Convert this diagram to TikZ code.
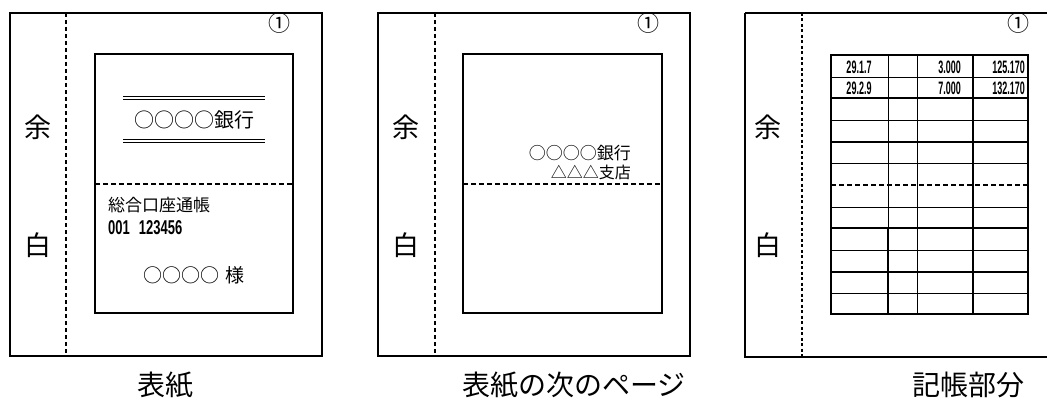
\documentclass[tikz,border=0pt]{standalone}
\usepackage{fontspec}
\setmainfont{Noto Sans CJK JP}
\newfontfamily\numfont{Liberation Sans}
\begin{document}
\begin{tikzpicture}[x=1pt,y=-1pt,
  pageframe/.style={draw, line width=1.4pt},
  innerframe/.style={draw, line width=1.4pt},
  marginline/.style={line width=1.3pt, dash pattern=on 4pt off 3pt},
  foldline/.style={line width=1.3pt, dash pattern=on 5pt off 3pt},
  margintext/.style={font=\fontsize{27}{27}\selectfont, inner sep=0pt},
  caption/.style={font=\fontsize{28}{28}\selectfont, inner sep=0pt},
  circnum/.style={font=\fontsize{22}{22}\selectfont, inner sep=0pt},
  tnum/.style={font=\numfont\bfseries\fontsize{18}{18}\selectfont, xscale=0.5, inner sep=0pt},
  gridthin/.style={line width=0.9pt},
  gridthick/.style={line width=1.7pt}]
\useasboundingbox (0,0) rectangle (1047,404);

% ---------- panel 1 : 表紙 ----------
\draw[pageframe] (10,13) rectangle (322,356);
\draw[marginline] (66,13) -- (66,356);
\node[margintext] (p1yo) at (38,127) {余};
\node[margintext] (p1haku) at (38,245) {白};
\node[circnum] (p1num) at (279,23) {①};
\draw[innerframe] (95,54) rectangle (293,313);
\draw[foldline] (95,184) -- (293,184);
\draw[line width=0.9pt, double, double distance=1.4pt] (123,98) -- (265,98);
\draw[line width=0.9pt, double, double distance=1.4pt] (123,141) -- (265,141);
\node[font=\fontsize{20}{20}\selectfont, inner sep=0pt] (p1bank) at (194,120) {○○○○銀行};
\node[font=\fontsize{17}{17}\selectfont, inner sep=0pt, anchor=west] (p1title) at (108,205) {総合口座通帳};
\node[font=\numfont\bfseries\fontsize{20}{20}\selectfont, xscale=0.65, inner sep=0pt, anchor=west] (p1acct) at (108,228) {001\hspace{0.7em}123456};
\node[font=\fontsize{19}{19}\selectfont, inner sep=0pt] (p1name) at (194,275) {○○○○\hspace{0.3em}様};
\node[caption] (cap1) at (165,385) {表紙};

% ---------- panel 2 : 表紙の次のページ ----------
\draw[pageframe] (378,13) rectangle (690,356);
\draw[marginline] (435,13) -- (435,356);
\node[margintext] (p2yo) at (406,127) {余};
\node[margintext] (p2haku) at (406,245) {白};
\node[circnum] (p2num) at (648,23) {①};
\draw[innerframe] (463,54) rectangle (662,313);
\draw[foldline] (463,184) -- (662,184);
\node[font=\fontsize{17}{17}\selectfont, inner sep=0pt, anchor=east] (p2bank) at (631,153) {○○○○銀行};
\node[font=\fontsize{16}{16}\selectfont, inner sep=0pt, anchor=east] (p2branch) at (631,172) {△△△支店};
\node[caption] (cap2) at (574,385) {表紙の次のページ};

% ---------- panel 3 : 記帳部分 ----------
\draw[pageframe] (745,13) -- (1047,13);
\draw[pageframe] (745,13) -- (745,357) -- (1047,357);
\draw[line width=1.7pt, dash pattern=on 3pt off 2.5pt] (802,13) -- (802,357);
\node[margintext] (p3yo) at (768,127) {余};
\node[margintext] (p3haku) at (768,245) {白};
\node[circnum] (p3num) at (1018,23) {①};
% table rows
\foreach \yy in {77,120,163,207,250,293} {\draw[gridthin] (831,\yy) -- (1028,\yy);}
\foreach \yy in {98,142,228,272} {\draw[gridthick] (831,\yy) -- (1028,\yy);}
\draw[foldline] (831,185) -- (1028,185);
% table columns
\draw[gridthin] (917,55) -- (917,314);
\draw[gridthin] (888,55) -- (888,228);
\draw[gridthick] (888,228) -- (888,314);
\draw[gridthick] (973,55) -- (973,314);
\draw[gridthick] (831,55) rectangle (1028,314);
% entries
\node[tnum] (r1d) at (859,67) {29.1.7};
\node[tnum, anchor=east] (r1a) at (961,67) {3.000};
\node[tnum, anchor=east] (r1b) at (1025,67) {125.170};
\node[tnum] (r2d) at (859,88) {29.2.9};
\node[tnum, anchor=east] (r2a) at (961,88) {7.000};
\node[tnum, anchor=east] (r2b) at (1025,88) {132.170};
\node[caption] (cap3) at (968,385) {記帳部分};
\end{tikzpicture}
\end{document}
